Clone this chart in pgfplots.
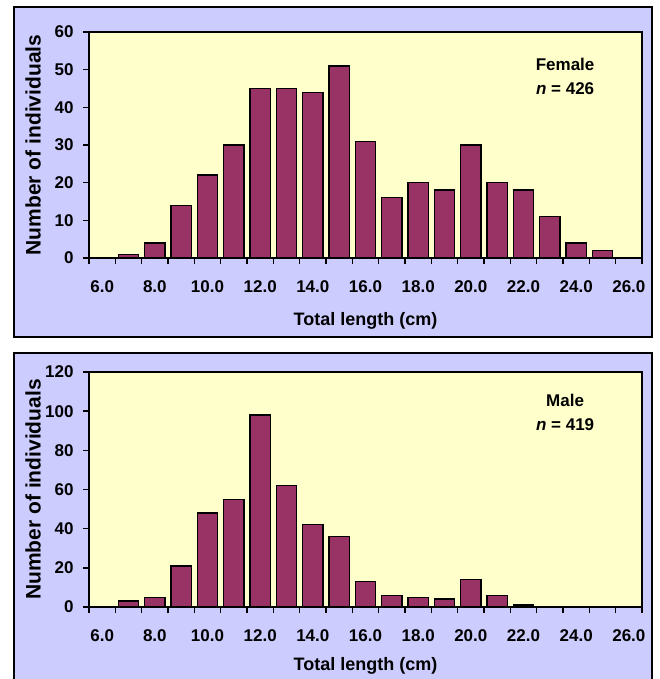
\documentclass[border=0pt]{standalone}
\usepackage{fontspec}
\setmainfont{Liberation Sans}
\usepackage{pgfplots}
\pgfplotsset{compat=1.18}
\definecolor{framebg}{HTML}{CCCCFF}
\definecolor{plotbg}{HTML}{FFFFCC}
\definecolor{barcol}{HTML}{993366}

\pgfplotsset{
  hist/.style={
    scale only axis, width=553pt,
    xmin=5.5, xmax=26.5, ymin=0,
    axis background/.style={fill=plotbg},
    axis line style={line width=1.4pt},
    tick pos=left, tick align=outside,
    major tick length=6pt,
    tick style={line width=1.4pt, black},
    xtick={5.5,6.5,7.5,8.5,9.5,10.5,11.5,12.5,13.5,14.5,15.5,16.5,17.5,18.5,19.5,20.5,21.5,22.5,23.5,24.5,25.5,26.5},
    x tick label as interval,
    xticklabels={6.0,,8.0,,10.0,,12.0,,14.0,,16.0,,18.0,,20.0,,22.0,,24.0,,26.0},
    xtick style={line width=1.4pt, black, opacity=1, draw=black},
    xticklabel style={yshift=-13pt},
    yticklabel style={xshift=-6pt},
    ticklabel style={font=\fontsize{17}{20}\selectfont\bfseries},
    /pgf/number format/assume math mode=true,
    label style={font=\fontsize{18}{22}\selectfont\bfseries},
    xlabel={Total length (cm)},
    ylabel={Number of individuals},
    ylabel style={at={(rel axis cs:-0.101,0.5)}, anchor=center, font=\fontsize{21}{24}\selectfont\bfseries},
  },
  bars/.style={ybar, bar width=0.78, bar shift=0pt, fill=barcol, draw=black, line width=1.4pt},
}

\begin{document}
\begin{tikzpicture}[x=1pt,y=1pt]
\useasboundingbox (0,0) rectangle (659,679);
\fill[white] (0,0) rectangle (659,679);
\draw[fill=framebg, line width=1.4pt] (14,342) rectangle (652,672);
\draw[fill=framebg, line width=1.4pt] (14,-11) rectangle (652,326);

\begin{axis}[hist, at={(89pt,421pt)}, anchor=south west, height=226pt,
  ymax=60, ytick={0,10,...,60},
  xlabel style={at={(rel axis cs:0.5,0)}, anchor=center, yshift=-63pt}]
\addplot[bars] coordinates {
(7,1) (8,4) (9,14) (10,22) (11,30) (12,45) (13,45) (14,44) (15,51) (16,31)
(17,16) (18,20) (19,18) (20,30) (21,20) (22,18) (23,11) (24,4) (25,2)};
\node[font=\fontsize{17}{24}\selectfont\bfseries, align=center] at (rel axis cs:0.861,0.805) {Female\\\textit{n} = 426};
\end{axis}

\begin{axis}[hist, at={(89pt,72pt)}, anchor=south west, height=235pt,
  ymax=120, ytick={0,20,...,120},
  xlabel style={at={(rel axis cs:0.5,0)}, anchor=center, yshift=-59pt}]
\addplot[bars] coordinates {
(7,3) (8,5) (9,21) (10,48) (11,55) (12,98) (13,62) (14,42) (15,36) (16,13)
(17,6) (18,5) (19,4) (20,14) (21,6) (22,1)};
\node[font=\fontsize{17}{24}\selectfont\bfseries, align=center] at (rel axis cs:0.861,0.828) {Male\\\textit{n} = 419};
\end{axis}
\end{tikzpicture}
\end{document}
